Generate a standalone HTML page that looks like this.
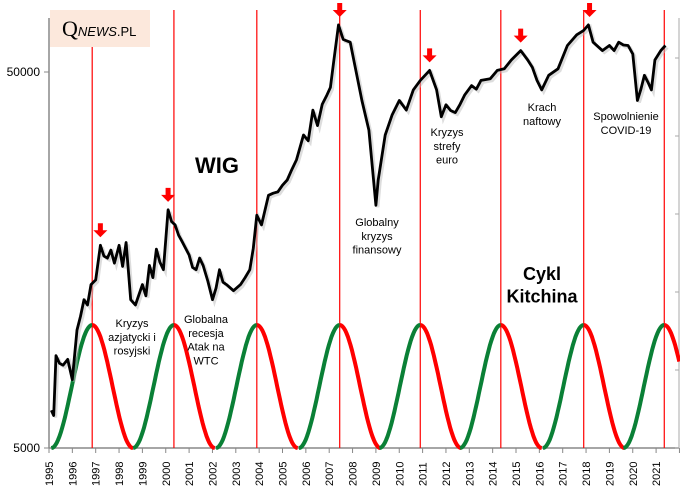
<!DOCTYPE html>
<html><head><meta charset="utf-8"><style>
body{margin:0;background:#fff;}
svg{display:block;font-family:"Liberation Sans","DejaVu Sans",sans-serif;}
</style></head><body>
<svg id="c" width="680" height="501"></svg>
<script>
const years=[1995.1,1995.2,1995.3,1995.45,1995.6,1995.8,1996.0,1996.2,1996.35,1996.5,1996.65,1996.8,1997.0,1997.2,1997.35,1997.5,1997.65,1997.8,1998.0,1998.15,1998.3,1998.5,1998.7,1999.0,1999.15,1999.3,1999.45,1999.6,1999.75,1999.9,2000.1,2000.25,2000.4,2000.55,2000.7,2001.0,2001.15,2001.3,2001.45,2001.6,2001.8,2002.0,2002.15,2002.3,2002.45,2002.6,2002.9,2003.2,2003.4,2003.6,2003.75,2003.9,2004.1,2004.4,2004.6,2004.8,2005.0,2005.2,2005.4,2005.6,2005.75,2005.9,2006.1,2006.3,2006.5,2006.7,2006.9,2007.05,2007.2,2007.4,2007.6,2007.9,2008.1,2008.4,2008.7,2009.0,2009.1,2009.4,2009.7,2010.0,2010.3,2010.6,2010.9,2011.3,2011.6,2011.8,2012.0,2012.2,2012.4,2012.6,2012.8,2013.1,2013.3,2013.5,2013.9,2014.2,2014.5,2014.8,2015.2,2015.5,2015.7,2015.9,2016.1,2016.4,2016.8,2017.2,2017.6,2017.9,2018.1,2018.3,2018.7,2019.0,2019.2,2019.4,2019.6,2019.8,2020.0,2020.2,2020.35,2020.5,2020.65,2020.8,2020.95,2021.2,2021.4];
const wig=[6300,6100,8800,8400,8300,8600,7600,10300,11200,12400,12000,13600,14000,17300,16200,16000,16800,15500,17300,15200,17600,12400,12000,13600,12700,15300,14200,16900,15600,14900,21500,20000,19600,18400,17700,16300,15100,14900,16000,15300,13900,12400,13300,14900,13800,13600,13100,13600,14200,14900,17000,20800,19600,23500,23800,24000,25000,25800,27500,29200,31500,34000,32800,39600,36000,41000,43400,45500,53800,66700,61000,60000,52000,42000,35000,22100,25800,34000,38500,42000,39600,44800,47500,50500,44800,38000,40900,39500,39000,41000,43400,46000,45000,47500,48000,50500,51000,53800,57000,53800,51500,47500,44800,49000,51000,58800,62800,64500,66700,60000,57000,58800,57000,60000,59000,58800,55800,42000,45000,49000,47000,44800,53800,57000,58800];
const xTicks=[1995,1996,1997,1998,1999,2000,2001,2002,2003,2004,2005,2006,2007,2008,2009,2010,2011,2012,2013,2014,2015,2016,2017,2018,2019,2020,2021];
const yTicks=[5000,50000];
const cyclePeaks=[1996.85,2000.35,2003.9,2007.45,2010.9,2014.35,2017.9,2021.35];
const arrows=[[1997.2,17300],[2000.1,21500],[2007.45,66700],[2011.3,50500],[2015.2,57000],[2018.15,66700]];
const X=y=>49+(y-1995)*23.35;
const Y=v=>448-376*Math.log10(v/5000);
const svg=document.getElementById('c');const NS='http://www.w3.org/2000/svg';
function el(t,a,p){const e=document.createElementNS(NS,t);for(const k in a)e.setAttribute(k,a[k]);(p||svg).appendChild(e);return e;}
let ax=el('line',{x1:49,y1:18,x2:49,y2:448,stroke:'#888','stroke-width':1.5});

let bx=el('line',{x1:49,y1:448,x2:679,y2:448,stroke:'#888','stroke-width':1.5});

let rx=el('line',{x1:679,y1:18,x2:679,y2:448,stroke:'#aaa','stroke-width':1});

for(let i=0;i<6;i++){let t=el('line',{x1:679,x2:675,y1:448-i*78,y2:448-i*78,stroke:'#aaa'});}
xTicks.forEach(y=>{const x=X(y);
 let t=el('line',{x1:x,x2:x,y1:448,y2:453,stroke:'#888'});
 let l=el('text',{x:0,y:0,transform:`translate(${x+4},${486}) rotate(-90)`,'font-size':11,fill:'#000'});l.textContent=y;
 });
let t2=el('line',{x1:X(2022),x2:X(2022),y1:448,y2:453,stroke:'#888'});
yTicks.forEach(v=>{const y=Y(v);
 let t=el('line',{x1:44,x2:49,y1:y,y2:y,stroke:'#888'});
 let l=el('text',{x:40,y:y+4,'font-size':12,'text-anchor':'end'});l.textContent=v;
 });
cyclePeaks.forEach((p,i)=>{let l=el('line',{x1:X(p),x2:X(p),y1:i==0?47:10,y2:448,stroke:'#f00','stroke-width':1.2});
 });
const half=(cyclePeaks[1]-cyclePeaks[0])/2;
const yT=448,yP=325;
for(let c=0;c<cyclePeaks.length;c++){const p=cyclePeaks[c];
 let up='',dn='';
 for(let k=0;k<=30;k++){const t=k/30;const yr=p-half+half*t;const v=yT+(yP-yT)*(1-Math.cos(Math.PI*t))/2;up+=(k?'L':'M')+X(yr).toFixed(1)+','+v.toFixed(1);}
 const end=Math.min(p+half,2022);
 for(let k=0;k<=30;k++){const t=k/30;const yr=p+half*t;if(yr>end+0.001)break;const v=yP+(yT-yP)*(1-Math.cos(Math.PI*t))/2;dn+=(k?'L':'M')+X(yr).toFixed(1)+','+v.toFixed(1);}
 let g=el('path',{d:up,fill:'none',stroke:'#0a8036','stroke-width':4});
 let r=el('path',{d:dn,fill:'none',stroke:'#f00','stroke-width':4});}
let d=years.map((y,i)=>(i?'L':'M')+X(y).toFixed(1)+','+Y(wig[i]).toFixed(1)).join('');
let sh=el('path',{d:d,fill:'none',stroke:'#bbb','stroke-width':3,transform:'translate(2,2)',opacity:0.5});
let wl=el('path',{d:d,fill:'none',stroke:'#000','stroke-width':2.8,'stroke-linejoin':'round'});
arrows.forEach(a=>{const x=X(a[0]),y=Y(a[1])-8;
 let p=el('path',{d:`M${x-2.5},${y-14}h5v7h4.5l-7,7l-7,-7h4.5z`,fill:'#f00'});});
let lg=el('rect',{x:50,y:10,width:100,height:37,fill:'#fce8dc'});
let lt=el('text',{x:62,y:36,'font-family':'Liberation Serif, serif','font-size':22});lt.innerHTML='Q<tspan font-size="13" font-style="italic" font-family="Liberation Sans, sans-serif">NEWS</tspan><tspan font-size="13" font-family="Liberation Sans, sans-serif">.PL</tspan>';

function txt(lines,x,y,size,name,bold){const t=el('text',{x:x,y:y,'font-size':size,'text-anchor':'middle','font-weight':bold?'bold':'normal',fill:'#000'});
 lines.forEach((s,i)=>{const ts=el('tspan',{x:x,dy:i?size*1.25:0},t);ts.textContent=s;});
 }
txt(['WIG'],217,173,22,'wig-title',true);
txt(['Cykl','Kitchina'],542,280,18,'cycle-title',true);
txt(['Kryzys','azjatycki i','rosyjski'],132,327,11,'label-asian-crisis');
txt(['Globalna','recesja','Atak na','WTC'],206,323,11,'label-global-recession');
txt(['Globalny','kryzys','finansowy'],377,226,11,'label-financial-crisis');
txt(['Kryzys','strefy','euro'],447,136,11,'label-euro-crisis');
txt(['Krach','naftowy'],542,111,11,'label-oil-crash');
txt(['Spowolnienie','COVID-19'],626,120,11,'label-covid');
</script>
</body></html>
